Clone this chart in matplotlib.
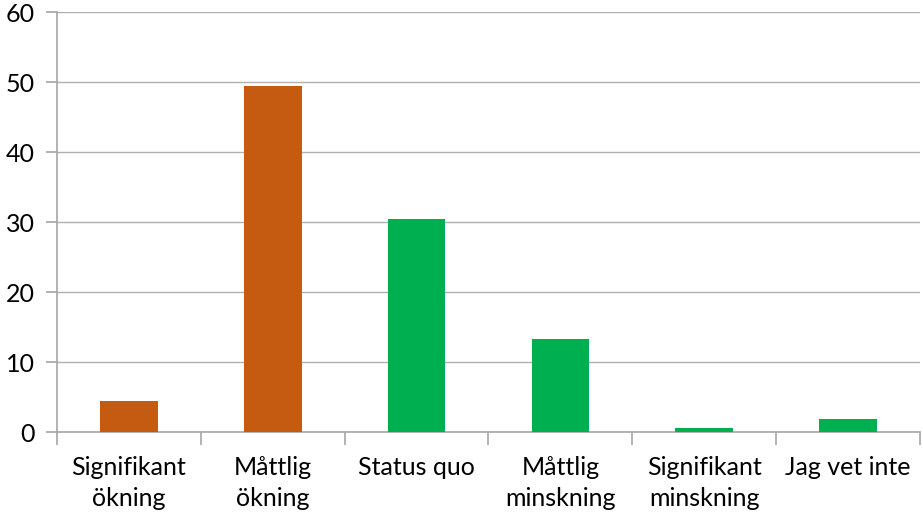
import numpy as np
import matplotlib.pyplot as plt

categories = ["Signifikant\nökning", "Måttlig\nökning", "Status quo",
              "Måttlig\nminskning", "Signifikant\nminskning", "Jag vet inte"]
values = [4.4, 49.5, 30.4, 13.3, 0.6, 1.9]
bar_colors = ["#C55A11", "#C55A11", "#00B050", "#00B050", "#00B050", "#00B050"]
yticks = [0, 10, 20, 30, 40, 50, 60]

plt.rcParams["font.family"] = ["Lato", "DejaVu Sans"]

fig = plt.figure(figsize=(9.23, 5.15), dpi=100)
ax = fig.add_axes([57 / 923, 83 / 515, 863 / 923, 420 / 515])

x = np.arange(len(categories))
ax.bar(x, values, width=0.4, color=bar_colors, zorder=3)

ax.set_xlim(-0.5, len(categories) - 0.5)
ax.set_ylim(0, 60)
ax.set_yticks(yticks)
ax.yaxis.grid(True, color="#B0B0B0", linewidth=1.0, zorder=0)

grey = "#A6A6A6"
for s in ["top", "right"]:
    ax.spines[s].set_visible(False)
ax.spines["left"].set_color(grey)
ax.spines["bottom"].set_color(grey)
ax.spines["left"].set_linewidth(1.2)
ax.spines["bottom"].set_linewidth(1.2)

# category labels centered, tick marks between categories
ax.set_xticks(x)
ax.set_xticklabels(categories, fontsize=18, linespacing=1.45, va="top")
ax.tick_params(axis="x", length=0, pad=17)
ax.set_xticks(np.arange(-0.5, len(categories)), minor=True)
ax.tick_params(axis="x", which="minor", length=9, color=grey, width=1.2)
ax.tick_params(axis="y", length=8, color=grey, width=1.2, labelsize=18, pad=8)

fig.savefig("out.png", dpi=100)
